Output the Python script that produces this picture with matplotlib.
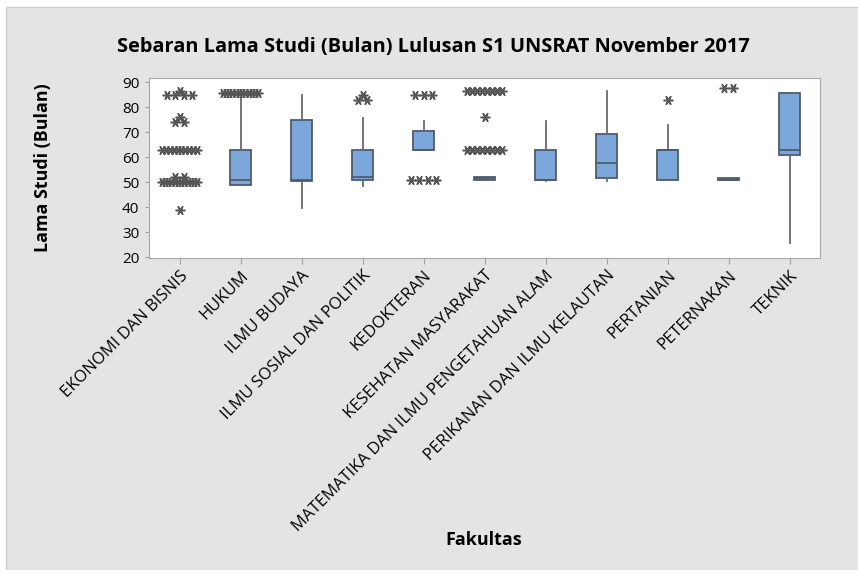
import numpy as np
import matplotlib.pyplot as plt
from matplotlib.patches import Rectangle

# data: boxplot lama studi (bulan) per fakultas
fakultas = ['EKONOMI DAN BISNIS', 'HUKUM', 'ILMU BUDAYA', 'ILMU SOSIAL DAN POLITIK',
            'KEDOKTERAN', 'KESEHATAN MASYARAKAT', 'MATEMATIKA DAN ILMU PENGETAHUAN ALAM',
            'PERIKANAN DAN ILMU KELAUTAN', 'PERTANIAN', 'PETERNAKAN', 'TEKNIK']
q1 = [50, 49, 50.6, 51, 63, 51, 51, 51.5, 51, 51, 61]
med = [50, 51, 51, 52, 63, 51.5, 51, 57.7, 63, 51, 62.8]
q3 = [50, 63, 75, 63, 70.5, 52, 63, 69.2, 63, 51.7, 85.7]
wlo = [50, 49, 39.5, 48.4, 63, 51, 50.4, 50.4, 51, 51, 25.5]
whi = [50, 83.5, 84.8, 75.5, 74.5, 52, 74.5, 86.5, 72.8, 51.7, 85.7]

# outlier: (nilai, jumlah)
outliers = [
    [(39, 1), (50, 12), (52, 2), (63, 10), (74, 2), (76, 1), (85, 4), (86.5, 1)],
    [(85.7, 12)],
    [],
    [(83, 2), (85, 1)],
    [(51, 4), (85, 3)],
    [(63, 8), (76, 1), (86.5, 8)],
    [],
    [],
    [(83, 1)],
    [(87.7, 2)],
    [],
]

plt.rcParams['font.family'] = ['Open Sans', 'DejaVu Sans']

fig = plt.figure(figsize=(8.58, 5.70), dpi=100)
fig.patch.set_facecolor('white')
fig.patches.append(Rectangle((6/858, 0), 1, 1 - 7/570, transform=fig.transFigure,
                             facecolor='#e4e4e4', edgecolor='#cfcfcf', lw=1, zorder=-10))

ax = fig.add_axes([149/858, 1 - 258/570, (820 - 149)/858, (258 - 78)/570])
ax.set_facecolor('white')

stats = []
for i in range(len(fakultas)):
    stats.append(dict(q1=q1[i], med=med[i], q3=q3[i], whislo=wlo[i], whishi=whi[i], fliers=[]))

pos = np.arange(1, len(fakultas) + 1)
ax.bxp(stats, positions=pos, widths=0.36, patch_artist=True, showfliers=False, showcaps=False,
       boxprops=dict(facecolor='#7ba7db', edgecolor='#4f5b6a', linewidth=1.3),
       medianprops=dict(color='#4f5b6a', linewidth=1.3),
       whiskerprops=dict(color='#6a6a6a', linewidth=1.3))

# outlier disebar horizontal jika nilainya sama
for p, grp in zip(pos, outliers):
    for val, n in grp:
        step = min(0.14, 0.58 / max(n - 1, 1))
        xs = p + (np.arange(n) - (n - 1) / 2) * step
        ax.plot(xs, [val] * n, linestyle='none', marker=(6, 2, 30), markersize=7,
                markeredgewidth=1.1, color='#555555', zorder=5)

ax.set_xlim(0.5, 11.5)
ax.set_ylim(19.6, 91.6)
ax.set_yticks(range(20, 91, 10))
ax.set_xticks(pos)
ax.set_xticklabels(fakultas, rotation=45, ha='right', rotation_mode='anchor', fontsize=12)
ax.tick_params(axis='y', labelsize=11, colors='#a0a0a0', labelcolor='black', length=3, pad=4)
ax.tick_params(axis='x', colors='#a0a0a0', labelcolor='black', length=4, pad=3)
for s in ax.spines.values():
    s.set_color('#a8a8a8')

fig.text(43/858, 1 - 168/570, 'Lama Studi (Bulan)', fontsize=12.9, fontweight='bold',
         rotation=90, ha='center', va='center')
fig.text(484/858, 1 - 540/570, 'Fakultas', fontsize=12.9, fontweight='bold', ha='center', va='center')
fig.text(433/858, 1 - 47/570, 'Sebaran Lama Studi (Bulan) Lulusan S1 UNSRAT November 2017',
         fontsize=14.4, fontweight='bold', ha='center', va='center')

fig.savefig('out.png', dpi=100, facecolor=fig.get_facecolor())
